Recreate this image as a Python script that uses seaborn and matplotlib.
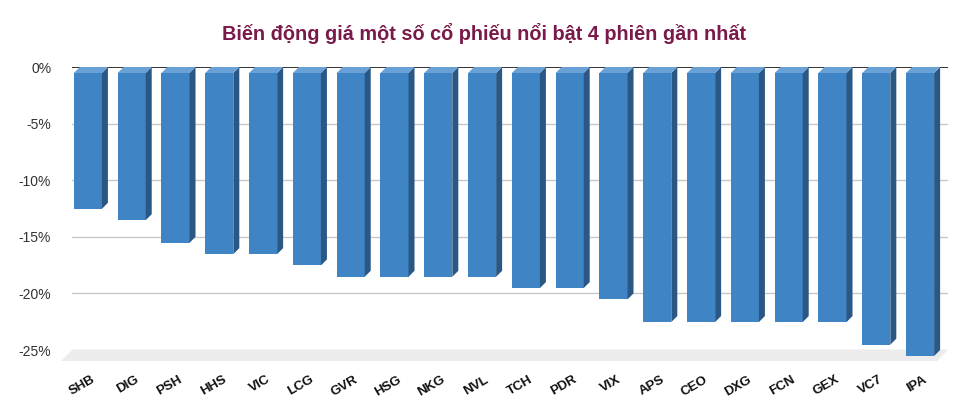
import matplotlib
matplotlib.use("Agg")
import matplotlib.pyplot as plt
import matplotlib.transforms as mtransforms
from matplotlib.patches import Polygon
import seaborn as sns
import pandas as pd
import numpy as np

tickers = ["SHB", "DIG", "PSH", "HHS", "VIC", "LCG", "GVR", "HSG", "NKG", "NVL",
           "TCH", "PDR", "VIX", "APS", "CEO", "DXG", "FCN", "GEX", "VC7", "IPA"]
changes = [-12, -13, -15, -16, -16, -17, -18, -18, -18, -18,
           -19, -19, -20, -22, -22, -22, -22, -22, -24, -25]
y_ticks = [0, -5, -10, -15, -20, -25]
y_labels = ["0%", "-5%", "-10%", "-15%", "-20%", "-25%"]
title = "Biến động giá một số cổ phiếu nổi bật 4 phiên gần nhất"

df = pd.DataFrame({"ticker": tickers, "change": changes})

sns.set_theme(style="white")
plt.rcParams["font.family"] = ["Liberation Sans", "DejaVu Sans"]

W, H = 969, 411
fig = plt.figure(figsize=(W / 100, H / 100), dpi=100)
ax = fig.add_axes([72 / W, 1 - 350 / H, (948 - 72) / W, (350 - 67) / H])

front = "#3f84c5"
side = "#2a5783"
top = "#69a0d6"

sns.barplot(data=df, x="ticker", y="change", color=front, width=0.64,
            saturation=1, ax=ax, zorder=3)
ax.set_xlim(-0.5, len(tickers) - 0.5)
ax.set_ylim(-25, 0)

for s in ax.spines.values():
    s.set_visible(False)

ax.set_yticks(y_ticks)
ax.set_yticklabels(y_labels, fontsize=10, color="#333333")
ax.tick_params(axis="y", length=0, pad=15)
for yv in y_ticks:
    ax.axhline(yv, color="#222222" if yv == 0 else "#c8c8c8",
               lw=1.3 if yv == 0 else 1.0, zorder=1)

ax.set_xlabel("")
ax.set_ylabel("")
ax.tick_params(axis="x", length=0, pad=17)
ax.set_xticks(range(len(tickers)))
ax.set_xticklabels(tickers, fontsize=9.5, fontweight="bold", color="#111111",
                   rotation=30, ha="right", rotation_mode="anchor")
off_lab = mtransforms.ScaledTranslation(-3 / 100, 0, fig.dpi_scale_trans)
for lab in ax.get_xticklabels():
    lab.set_transform(lab.get_transform() + off_lab)

# 3D depth in pixels
d = 6.0
fd = 11.0
to_disp = ax.transData

# floor
(x0, yb) = to_disp.transform((-0.5, -25))
(x1, _) = to_disp.transform((len(tickers) - 0.5, -25))
floor = Polygon([(x0, yb), (x1, yb), (x1 - fd, yb - fd), (x0 - fd, yb - fd)],
                closed=True, transform=None, facecolor="#ececec",
                edgecolor="none", zorder=2, clip_on=False)
fig.patches.append(floor)
floor.set_figure(fig)

for p in ax.patches[:len(tickers)]:
    bx, by = p.get_x(), p.get_y()
    bw, bh = p.get_width(), p.get_height()
    (px0, py_top) = to_disp.transform((bx, by + bh if bh > 0 else by))
    (px1, py_bot) = to_disp.transform((bx + bw, by if bh > 0 else by + bh))
    # front face shifted down-left
    fx0, fx1 = px0 - d, px1 - d
    ft, fb = py_top - d, py_bot - d
    p.set_visible(False)
    faces = [
        ([(fx0, fb), (fx1, fb), (fx1, ft), (fx0, ft)], front),
        ([(fx1, ft), (fx1 + d, ft + d), (fx1 + d, fb + d), (fx1, fb)], side),
        ([(fx0, ft), (fx1, ft), (fx1 + d, ft + d), (fx0 + d, ft + d)], top),
    ]
    for verts, c in faces:
        poly = Polygon(verts, closed=True, transform=None, facecolor=c,
                       edgecolor="none", zorder=5, clip_on=False)
        poly.set_figure(fig)
        fig.patches.append(poly)

fig.text(484 / W, 1 - 34 / H, title, ha="center", va="center",
         fontsize=14.3, fontweight="bold", color="#7a1a4a")

fig.savefig("out.png", dpi=100)
